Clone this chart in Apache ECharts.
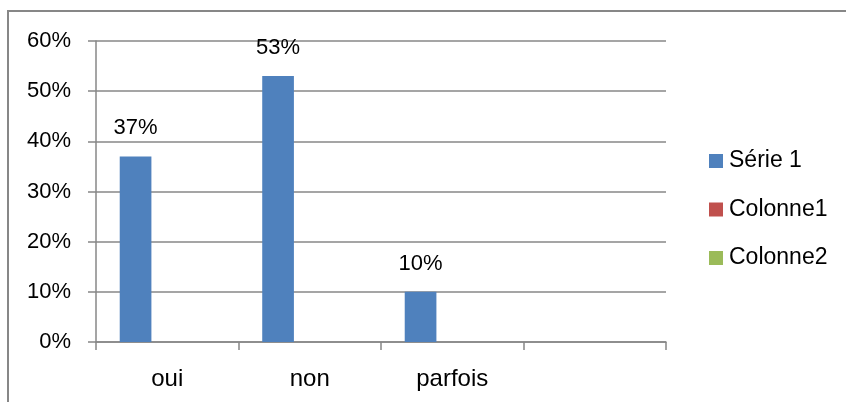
<!DOCTYPE html>
<html>
<head>
<meta charset="utf-8">
<script src="https://cdn.jsdelivr.net/npm/echarts@6/dist/echarts.min.js"></script>
<style>
  html, body { margin: 0; padding: 0; background: #fff; }
  #chart { width: 846px; height: 402px; }
</style>
</head>
<body>
<div id="chart"></div>
<script>
// Answer categories (last slot is left blank)
const categories = ['oui', 'non', 'parfois', ''];
// Percent values per series
const serie1 = [37, 53, 10, null];
const colonne1 = [null, null, null, null];
const colonne2 = [null, null, null, null];
const seriesNames = ['Série 1', 'Colonne1', 'Colonne2'];
const seriesColors = ['#4F81BD', '#C0504D', '#9BBB59'];

const FONT = '"Liberation Sans", Arial, sans-serif';
const GRID_GREY = '#878787';

const chart = echarts.init(document.getElementById('chart'), null, { renderer: 'canvas' });

function barSeries(name, data, color, withLabels) {
  return {
    name: name,
    type: 'bar',
    data: data,
    barGap: '0%',
    barCategoryGap: '33.3%',
    itemStyle: { color: color },
    label: {
      show: withLabels,
      position: 'top',
      distance: 17,
      formatter: p => p.value + '%',
      fontFamily: FONT,
      fontSize: 22,
      color: '#000'
    },
    emphasis: { disabled: true },
    animation: false
  };
}

chart.setOption({
  animation: false,
  backgroundColor: '#fff',
  textStyle: { fontFamily: FONT },
  graphic: [{
    type: 'rect',
    shape: { x: 8, y: 11, width: 900, height: 500 },
    style: { fill: 'none', stroke: GRID_GREY, lineWidth: 2 },
    z: -1
  }],
  grid: { left: 96, right: 180, top: 41, bottom: 60, containLabel: false },
  legend: {
    orient: 'vertical',
    left: 709,
    top: 149,
    padding: 0,
    itemGap: 24.5,
    itemWidth: 14,
    itemHeight: 14,
    icon: 'rect',
    data: seriesNames,
    textStyle: { fontFamily: FONT, fontSize: 23, color: '#000', lineHeight: 24, padding: [0, 0, 0, 1] }
  },
  xAxis: {
    type: 'category',
    data: categories,
    boundaryGap: true,
    axisLine: { show: true, lineStyle: { color: GRID_GREY, width: 1.5 } },
    axisTick: { show: true, length: 8, lineStyle: { color: GRID_GREY, width: 1.5 } },
    axisLabel: { fontFamily: FONT, fontSize: 24, color: '#000', margin: 25 },
    splitLine: { show: false }
  },
  yAxis: {
    type: 'value',
    min: 0,
    max: 60,
    interval: 10,
    axisLine: { show: true, lineStyle: { color: GRID_GREY, width: 1.5 } },
    axisTick: { show: true, length: 8, lineStyle: { color: GRID_GREY, width: 1.5 } },
    axisLabel: { formatter: '{value}%', fontFamily: FONT, fontSize: 22, color: '#000', margin: 25 },
    splitLine: { show: true, lineStyle: { color: GRID_GREY, width: 1.5 } }
  },
  series: [
    barSeries(seriesNames[0], serie1, seriesColors[0], true),
    barSeries(seriesNames[1], colonne1, seriesColors[1], false),
    barSeries(seriesNames[2], colonne2, seriesColors[2], false)
  ]
});
</script>
</body>
</html>
